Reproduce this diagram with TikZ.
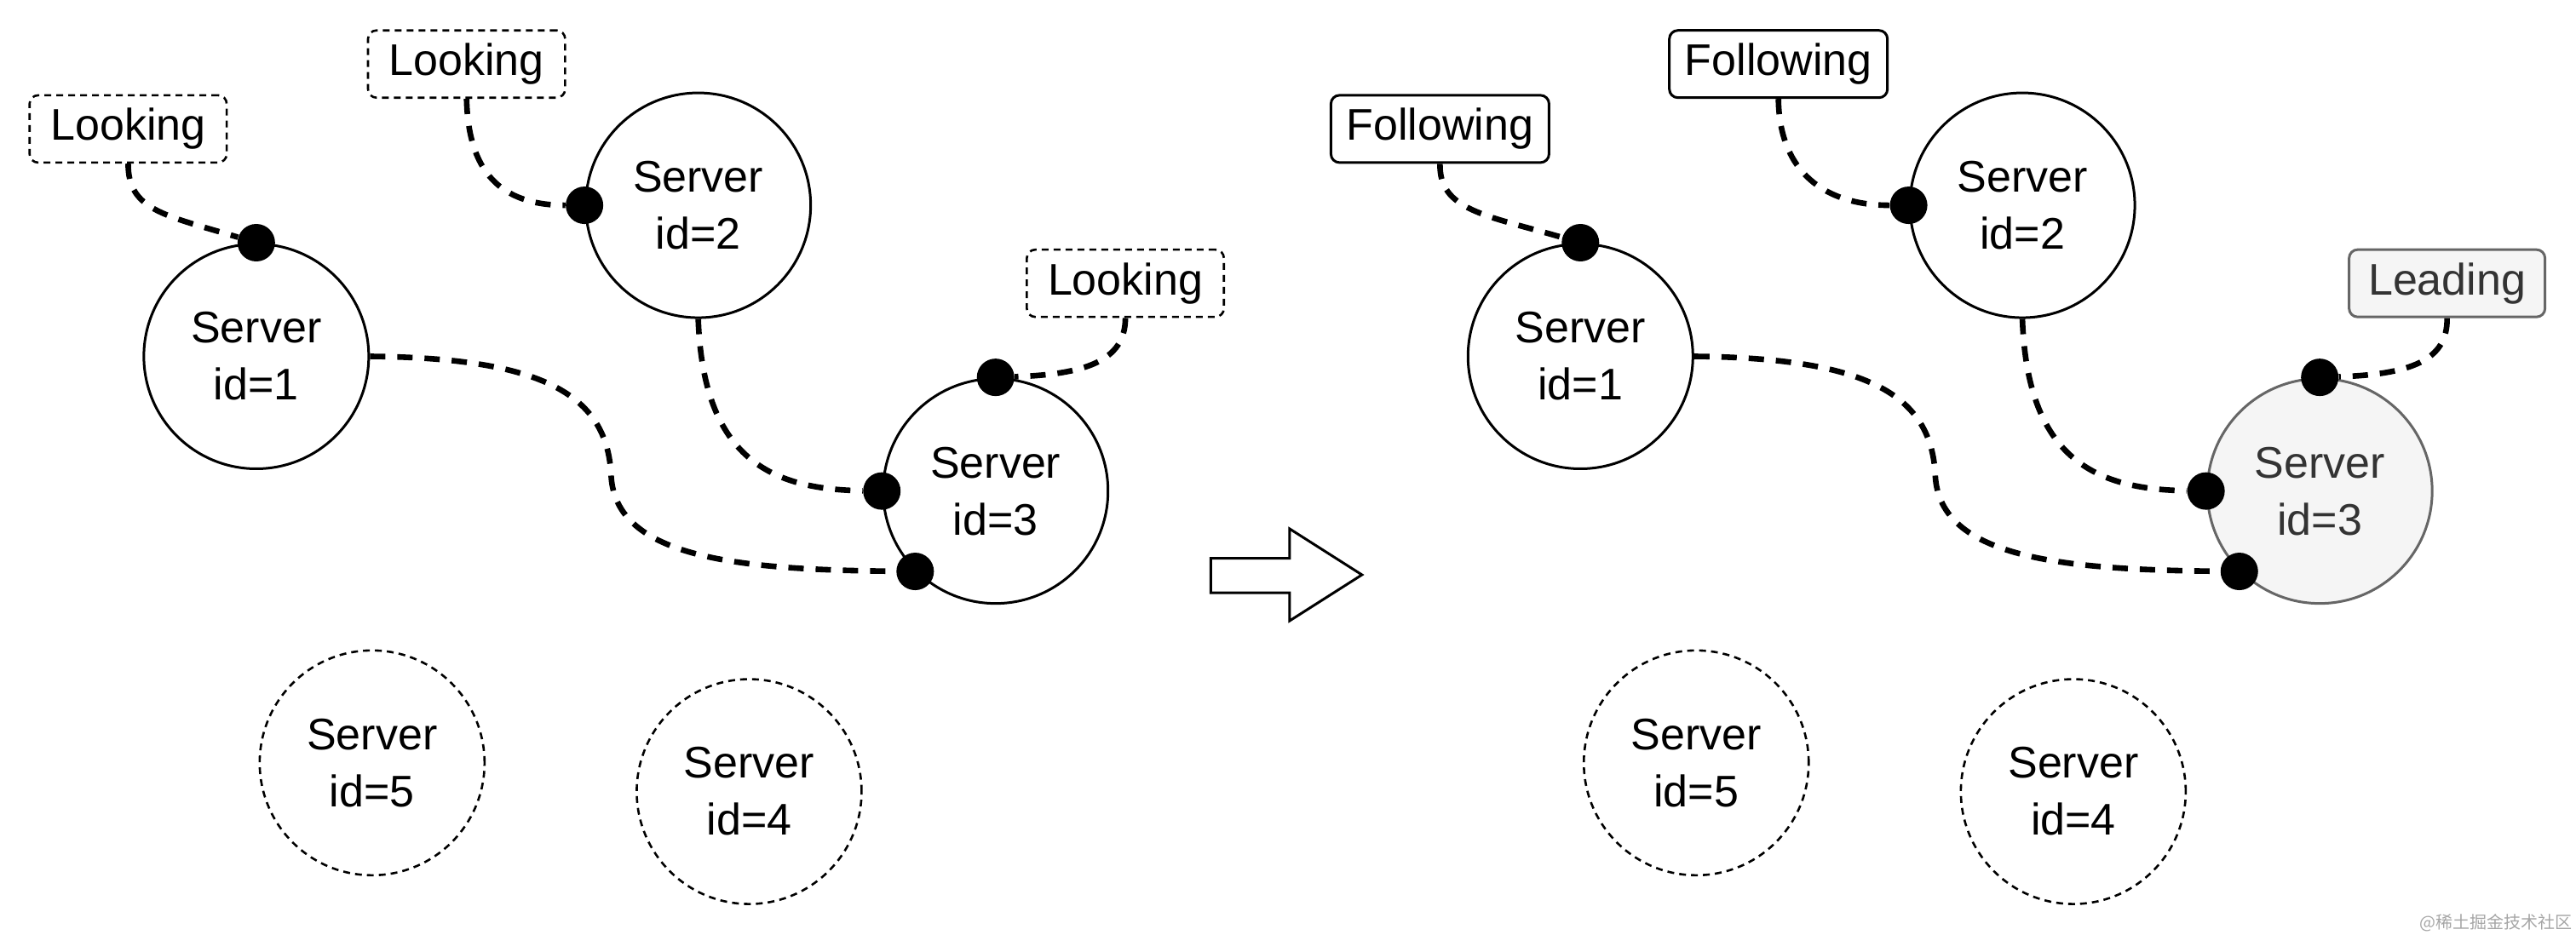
\documentclass[tikz,border=0pt]{standalone}
\usepackage{fontspec}
\setmainfont{Liberation Sans}
\newfontfamily\cjk{Noto Sans CJK SC}
\definecolor{lgray}{HTML}{F5F5F5}
\definecolor{dgray}{HTML}{666666}
\definecolor{tgray}{HTML}{333333}
\begin{document}
\begin{tikzpicture}[x=0.9643pt,y=-0.9643pt,
  srv/.style={circle, draw, line width=1.5pt, minimum size=132pt, inner sep=0pt, align=center, font=\fontsize{26}{33.5}\selectfont},
  srvoff/.style={srv, dash pattern=on 4pt off 3pt, line width=1.3pt},
  lead/.style={srv, fill=lgray, draw=dgray, text=tgray},
  tag/.style={rounded corners=5pt, draw, line width=1.5pt, minimum height=39.5pt, inner sep=0pt, font=\fontsize{26}{30}\selectfont},
  tagoff/.style={tag, dash pattern=on 4pt off 3pt, line width=1.3pt},
  dot/.style={circle, fill=black, minimum size=22pt, inner sep=0pt},
  link/.style={line width=3.3pt, dash pattern=on 9pt off 7pt}]
\useasboundingbox (0,0) rectangle (1568,569);

% ---------------- left panel ----------------
\node[srv] (s1) at (156,217) {Server\\id=1};
\node[srv] (s2) at (425,125) {Server\\id=2};
\node[srv] (s3) at (606,299) {Server\\id=3};
\node[srvoff] (s5) at (226.5,464.5) {Server\\id=5};
\node[srvoff] (s4) at (456,482) {Server\\id=4};

\node[tagoff, minimum width=115.7pt] (l1) at (78,78.5) {Looking};
\node[tagoff, minimum width=115.7pt] (l2) at (284,39) {Looking};
\node[tagoff, minimum width=115.7pt] (l3) at (685,172.5) {Looking};

\node[dot] (d1) at (s1.north) {};
\node[dot] (d2) at (s2.west) {};
\node[dot] (d3) at (s3.north) {};
\node[dot] (d4) at (s3.west) {};
\node[dot] (d5) at (s3.225) {};

\draw[link] (l1.south) .. controls (78,128) and (100,131) .. (d1);
\draw[link] (l2.south) .. controls (285,105) and (305,125) .. (d2);
\draw[link] (l3.south) .. controls (685,220) and (660,228) .. (d3);
\draw[link] (s2.south) .. controls (428,280) and (470,298) .. (d4);
\draw[link] (s1.east) .. controls (330,218) and (370,240) .. (372,290)
  .. controls (375,340) and (450,347) .. (d5);

% ---------------- arrow ----------------
\draw[line width=1.5pt, fill=white] (737,340) -- (785,340) -- (785,322) -- (829,350)
  -- (785,378) -- (785,361) -- (737,361) -- cycle;

% ---------------- right panel ----------------
\node[srv] (r1) at (962,217) {Server\\id=1};
\node[srv] (r2) at (1231,125) {Server\\id=2};
\node[lead] (r3) at (1412,299) {Server\\id=3};
\node[srvoff] (r5) at (1032.5,464.5) {Server\\id=5};
\node[srvoff] (r4) at (1262,482) {Server\\id=4};

\node[tag, minimum width=128pt] (f1) at (876.5,78.5) {Following};
\node[tag, minimum width=128pt] (f2) at (1082.5,39) {Following};
\node[tag, minimum width=115pt, fill=lgray, draw=dgray, text=tgray] (ld) at (1489.5,172.5) {Leading};

\node[dot] (e1) at (r1.north) {};
\node[dot] (e2) at (r2.west) {};
\node[dot] (e3) at (r3.north) {};
\node[dot] (e4) at (r3.west) {};
\node[dot] (e5) at (r3.225) {};

\draw[link] (f1.south) .. controls (876,128) and (904,131) .. (e1);
\draw[link] (f2.south) .. controls (1083,105) and (1111,125) .. (e2);
\draw[link] (ld.south) .. controls (1490,220) and (1466,228) .. (e3);
\draw[link] (r2.south) .. controls (1234,280) and (1276,298) .. (e4);
\draw[link] (r1.east) .. controls (1136,218) and (1176,240) .. (1178,290)
  .. controls (1181,340) and (1256,347) .. (e5);

% watermark
\node[anchor=east, inner sep=0pt, text=black!35, font=\cjk\fontsize{10}{12}\selectfont] (wm) at (1566,562) {@稀土掘金技术社区};
\end{tikzpicture}
\end{document}
